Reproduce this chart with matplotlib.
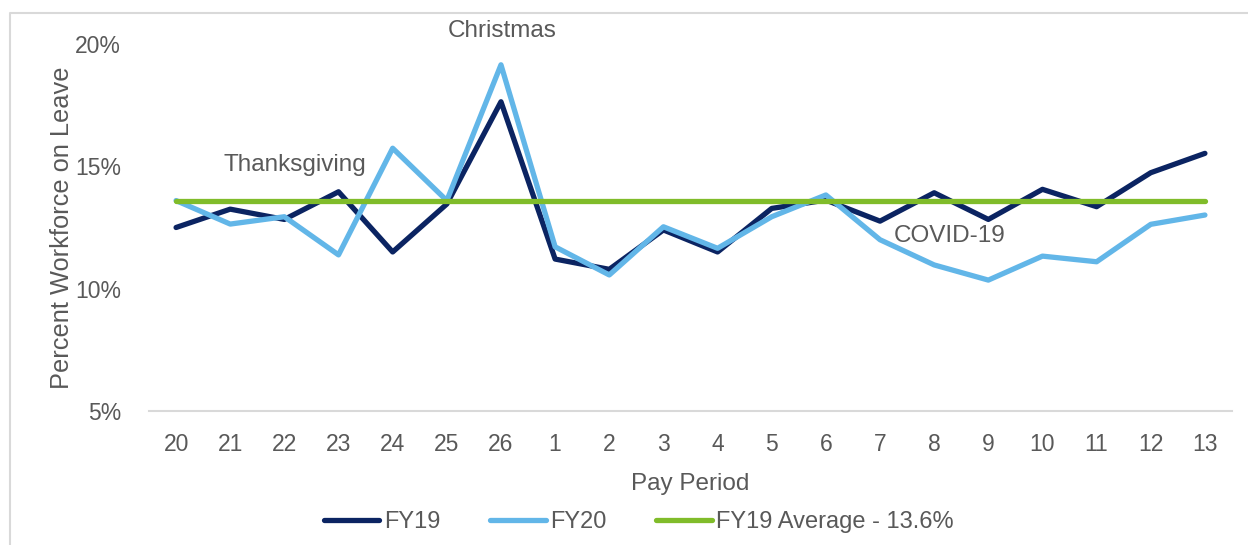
import matplotlib
matplotlib.use("Agg")
import matplotlib.pyplot as plt
from matplotlib.lines import Line2D

plt.rcParams['font.family'] = ['Liberation Sans', 'DejaVu Sans']

periods = ["20", "21", "22", "23", "24", "25", "26", "1", "2", "3", "4",
           "5", "6", "7", "8", "9", "10", "11", "12", "13"]
fy19 = [12.5, 13.25, 12.83, 13.96, 11.5, 13.46, 17.64, 11.21, 10.79, 12.4,
        11.5, 13.28, 13.62, 12.76, 13.92, 12.83, 14.06, 13.35, 14.74, 15.53]
fy20 = [13.6, 12.64, 12.94, 11.38, 15.74, 13.6, 19.15, 11.71, 10.56, 12.53,
        11.65, 12.94, 13.83, 12.0, 10.97, 10.35, 11.33, 11.1, 12.63, 13.01]
fy19_avg = 13.6
avg_series = [fy19_avg] * len(periods)
yticks = [5, 10, 15, 20]
ytick_labels = ["5%", "10%", "15%", "20%"]
annotations = [("Thanksgiving", 2.2, 15.05),
               ("Christmas", 6.02, 20.53),
               ("COVID-19", 14.28, 12.15)]

C_FY19 = "#0B2462"
C_FY20 = "#62B6E8"
C_AVG = "#80BC2A"
TXT = "#595959"

W, H = 1248, 545
fig = plt.figure(figsize=(W / 100, H / 100), dpi=100)
ax = fig.add_axes([149 / W, 134 / H, (1232 - 149) / W, (411 - 44) / H])

x = list(range(len(periods)))
lw = 3.8
ax.plot(x, fy19, color=C_FY19, lw=lw, solid_capstyle='round', solid_joinstyle='round', label="FY19", zorder=3)
ax.plot(x, fy20, color=C_FY20, lw=lw, solid_capstyle='round', solid_joinstyle='round', label="FY20", zorder=4)
ax.plot(x, avg_series, color=C_AVG, lw=lw, solid_capstyle='round', label="FY19 Average - 13.6%", zorder=5)

ax.set_xlim(-0.5, len(periods) - 0.5)
ax.set_ylim(5, 20)
ax.set_xticks(x)
ax.set_xticklabels(periods)
ax.set_yticks(yticks)
ax.set_yticklabels(ytick_labels)
ax.tick_params(axis='both', length=0, labelsize=16.5, labelcolor=TXT)
ax.tick_params(axis='x', pad=16)
ax.tick_params(axis='y', pad=20)

for s in ['top', 'right', 'left']:
    ax.spines[s].set_visible(False)
ax.spines['bottom'].set_color("#D9D9D9")
ax.spines['bottom'].set_linewidth(1.5)

ax.set_xlabel("Pay Period", fontsize=17.5, color=TXT)
ax.xaxis.label.set_va('center')
ax.xaxis.set_label_coords(0.5, -(484 - 411) / 367)
ax.set_ylabel("Percent Workforce on Leave", fontsize=18.3, color=TXT)
ax.yaxis.label.set_va('center')
ax.yaxis.set_label_coords(-(149 - 62) / 1083, 0.5)

for txt, xi, yi in annotations:
    ax.text(xi, yi, txt, fontsize=17.5, color=TXT, ha='center', va='center', clip_on=False, zorder=6)

fig.legend(loc='center', bbox_to_anchor=(639 / W, 1 - 522 / H), ncol=3, frameon=False,
           fontsize=17, handlelength=2.35, handletextpad=0.2, columnspacing=2.1,
           labelcolor=TXT)

# chart frame (top and left edges visible in the screenshot)
fig.add_artist(Line2D([10 / W, 10 / W, 1.0], [0.0, 1 - 13 / H, 1 - 13 / H],
                      transform=fig.transFigure, color="#D9D9D9", lw=1.5))

fig.savefig("out.png", dpi=100, facecolor="white")
